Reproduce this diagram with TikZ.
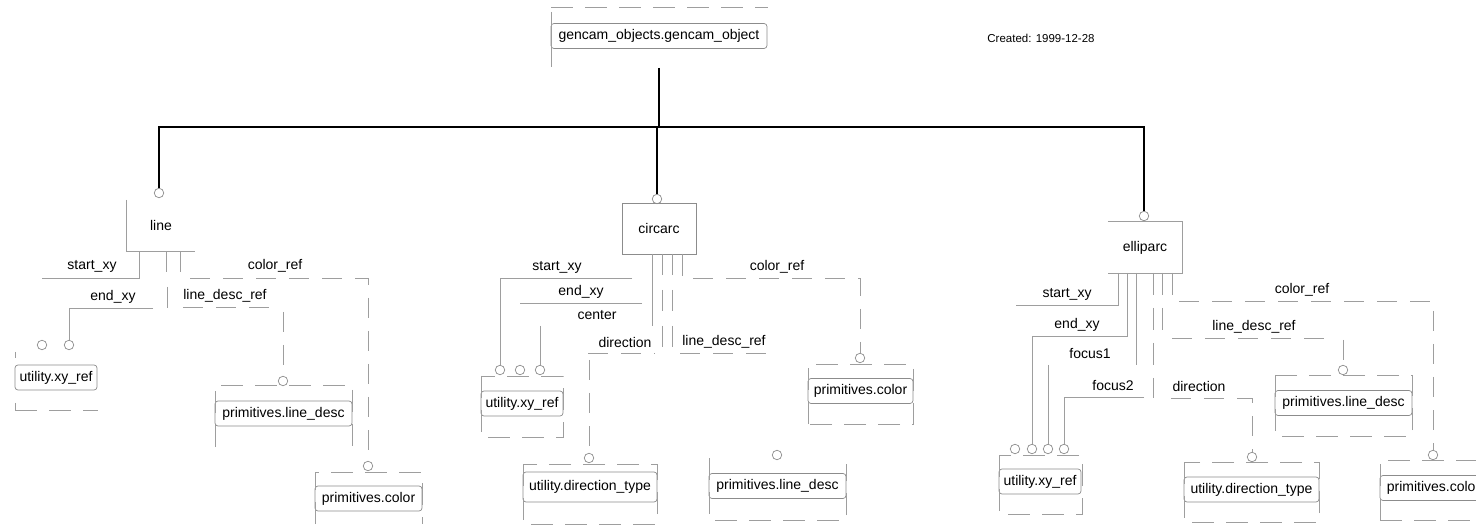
\documentclass[tikz,border=0pt]{standalone}
\usepackage{fontspec}
\setmainfont{Liberation Sans}
\begin{document}
\begin{tikzpicture}[x=1pt,y=-1pt,
  ln/.style={draw=black!38,line width=0.8pt},
  dsh/.style={ln,dash pattern=on 20pt off 13pt},
  fr/.style={draw=black!38,line width=0.8pt,dash pattern=on 22pt off 12pt},
  super/.style={draw=black,line width=2.2pt},
  ent/.style={draw=black!45,line width=0.7pt,rounded corners=3pt,inner sep=0pt,minimum height=25pt,font=\fontsize{14}{16}\selectfont},
  box/.style={inner sep=0pt,minimum width=74pt,minimum height=51pt,font=\fontsize{14}{16}\selectfont},
  lab/.style={inner sep=0pt,font=\fontsize{14}{16}\selectfont},
  circ/.style={circle,draw=black!45,line width=0.7pt,minimum size=9.5pt,inner sep=0pt}]
\useasboundingbox (0,0) rectangle (1476,529);
\fill[white] (0,0) rectangle (1476,529);

% ---------- top ----------
\node[ent,minimum width=216pt] (gobj) at (659,36) {gencam\_objects.gencam\_object};
\draw[fr] (551,7) -- (768,7);
\draw[ln] (551,12) -- (551,67);
\node[inner sep=0pt,font=\fontsize{11.5}{13}\selectfont] (created) at (1041,38) {Created: 1999-12-28};
\coordinate (gtop) at (659,68);
\coordinate (bus) at (659,127);

\node[circ] (cL) at (159,193) {};
\node[circ] (cC) at (657,199) {};
\node[circ] (cE) at (1144,216) {};
\draw[super] (gtop) -- (bus);
\draw[super] (cL.north) |- (bus) -| (cE.north);
\draw[super] (cC.north) |- (bus);

% ---------- line ----------
\node[box,minimum width=68pt] (lineE) at (161,225.5) {line};
\draw[ln] (lineE.north west) |- (lineE.south east);

\node[circ] (cL1) at (42,345) {};
\node[circ] (cL2) at (69,345) {};
\node[circ] (cLd) at (283,381) {};
\node[circ] (cLc) at (368,466) {};

\coordinate (la1) at ([xshift=13pt]lineE.south west);
\coordinate (la2) at ([xshift=40pt]lineE.south west);
\coordinate (la3) at ([xshift=54pt]lineE.south west);
\coordinate (sxL) at (42,278);
\draw[ln] (la1) |- (sxL);
\node[lab] (lsxL) at (92,266) {start\_xy};
\draw[ln] (la2) -- ++(0,21);
\draw[ln] (167,287) -- (167,308);
\coordinate (exL) at (153,308);
\draw[ln] (exL) -| (cL2.north);
\node[lab] (lexL) at (113,297) {end\_xy};
\draw[ln] (la3) -- ++(0,21);
\draw[dsh] (183,307) -- (274,307);
\node[lab] (lldL) at (225,296) {line\_desc\_ref};
\draw[dsh] (283,312) -- (cLd.north);
\coordinate (crL) at (190,278);
\draw[dsh] (crL) -| (cLc.north);
\node[lab] (lcrL) at (275,266) {color\_ref};

\node[ent,minimum width=82pt] (xyL) at (56,377.5) {utility.xy\_ref};
\draw[fr] (15,410) -- (98,410);
\draw[ln] (15,352) -- (15,358);
\draw[ln] (15,403) -- (15,410);
\node[ent,minimum width=137pt] (ldL) at (283.5,413.5) {primitives.line\_desc};
\draw[fr] (215,447) -- (215,385) -- (352,385) -- (352,447);
\node[ent,minimum width=107pt] (colL) at (368.5,498.5) {primitives.color};
\draw[fr] (315,524) -- (315,472) -- (422,472) -- (422,524);

% ---------- circarc ----------
\node[box,draw=black!45,line width=0.7pt] (circE) at (659,228.5) {circarc};
\node[circ] (cC1) at (500,370) {};
\node[circ] (cC2) at (520,370) {};
\node[circ] (cC3) at (540,370) {};
\node[circ] (cCd) at (589,458) {};
\node[circ] (cCl) at (777,455) {};
\node[circ] (cCc) at (860,358) {};

\draw[ln] (652,254) -- (652,326);
\draw[ln,dash pattern=on 21pt off 15pt] (662,254) -- (662,347);
\draw[ln,dash pattern=on 21pt off 15pt] (672,254) -- (672,347);
\draw[ln] (682,254) -- (682,276);

\coordinate (sxC) at (632,278);
\draw[ln] (sxC) -| (cC1.north);
\node[lab] (lsxC) at (557,267) {start\_xy};
\draw[ln] (642,303) -- (520,303);
\node[lab] (lexC) at (581,292) {end\_xy};
\draw[ln] (540,326) -- (cC3.north);
\node[lab] (lceC) at (597,315) {center};
\draw[dsh] (588,353) -- (655,353);
\node[lab] (ldiC) at (625,342) {direction};
\draw[dsh] (589,360) -- (cCd.north);
\draw[dsh] (680,353) -- (772,353);
\node[lab] (lldC) at (724,342) {line\_desc\_ref};
\coordinate (crC) at (693,278);
\draw[dsh] (crC) -| (cCc.north);
\node[lab] (lcrC) at (777,267) {color\_ref};

\node[ent,minimum width=82pt] (xyC) at (522,403.5) {utility.xy\_ref};
\draw[fr] (481,376) rectangle (563,437);
\node[ent,minimum width=134pt,minimum height=30pt] (dtC) at (590,487) {utility.direction\_type};
\draw[fr] (523,464) rectangle (657,524);
\node[ent,minimum width=137pt] (ldC) at (777.5,486) {primitives.line\_desc};
\draw[fr] (709,458) -- (709,520) -- (846,520) -- (846,464);
\node[ent,minimum width=105pt] (colC) at (860.5,391) {primitives.color};
\draw[fr] (808,424) -- (808,364) -- (913,364) -- (913,424) -- cycle;

% ---------- elliparc ----------
\node[box] (ellE) at (1145,247.5) {elliparc};
\draw[ln] (ellE.north west) -- (ellE.north east) -- (ellE.south east) -- (ellE.south west);
\node[circ] (cE1) at (1015,449) {};
\node[circ] (cE2) at (1032,449) {};
\node[circ] (cE3) at (1048,449) {};
\node[circ] (cE4) at (1064,449) {};
\node[circ] (cEd) at (1252,457) {};
\node[circ] (cEl) at (1343,370) {};
\node[circ] (cEc) at (1433,455) {};

\coordinate (sxE) at (1016,305);
\draw[ln] (1118,273) |- (sxE);
\node[lab] (lsxE) at (1067,294) {start\_xy};
\draw[ln] (1127,273) |- (1032,336) -- (cE2.north);
\node[lab] (lexE) at (1077,325) {end\_xy};
\draw[ln] (1136,273) -- (1136,365);
\draw[ln] (1048,365) -- (cE3.north);
\node[lab] (lf1E) at (1090,354) {focus1};
\draw[ln] (1144,397) -| (cE4.north);
\node[lab] (lf2E) at (1113,386) {focus2};
\draw[ln,dash pattern=on 22pt off 13pt] (1153,273) -- (1153,398);
\draw[dsh] (1171,398) -| (cEd.north);
\node[lab] (ldiE) at (1199,386) {direction};
\draw[ln,dash pattern=on 22pt off 13pt] (1162,273) -- (1162,340);
\draw[dsh] (1172,338) -- (1331,338);
\node[lab] (lldE) at (1254,327) {line\_desc\_ref};
\draw[dsh] (1343,340) -- (cEl.north);
\draw[ln] (1172,273) -- (1172,295);
\draw[dsh] (1179,301) -| (cEc.north);
\node[lab] (lcrE) at (1302,290) {color\_ref};

\node[ent,minimum width=82pt] (xyE) at (1040,481.5) {utility.xy\_ref};
\draw[fr] (999,455) rectangle (1082,514);
\node[ent,minimum width=135pt] (dtE) at (1251.5,489.5) {utility.direction\_type};
\draw[fr] (1184,462) rectangle (1319,522);
\node[ent,minimum width=107pt] (colE) at (1433.5,488) {primitives.color};
\node[ent,minimum width=137pt] (ldE) at (1343.5,403) {primitives.line\_desc};
\draw[fr] (1275,375) rectangle (1412,436);
\draw[fr] (1380,520) -- (1380,460) -- (1490,460);
\draw[fr] (1380,520) -- (1490,520);
\end{tikzpicture}
\end{document}
